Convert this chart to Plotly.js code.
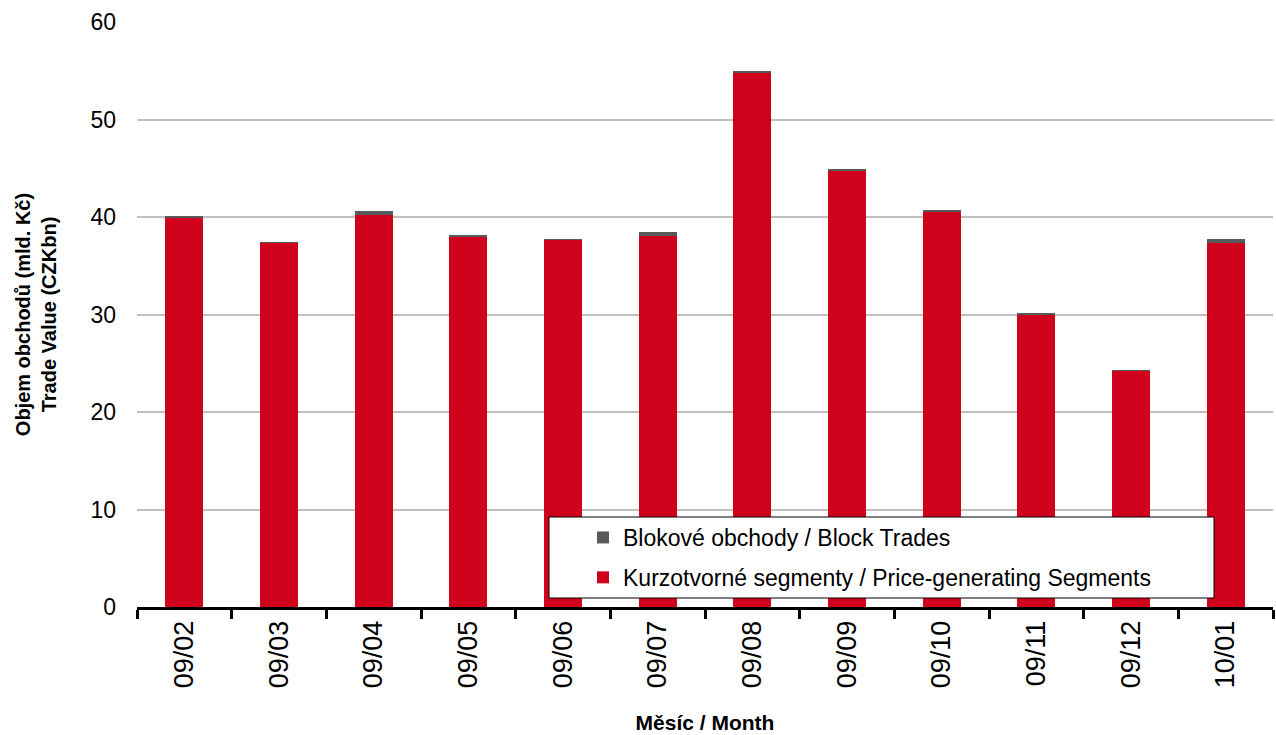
<!DOCTYPE html>
<html>
<head>
<meta charset="utf-8">
<script src="https://cdn.plot.ly/plotly-3.0.1.min.js"></script>
<style>html,body{margin:0;padding:0;background:#fff;}#chart{width:1276px;height:735px;}</style>
</head>
<body>
<div id="chart"></div>
<script>
const months = ["09/02","09/03","09/04","09/05","09/06","09/07","09/08","09/09","09/10","09/11","09/12","10/01"];
const priceGenerating = [39.9, 37.3, 40.2, 37.9, 37.65, 38.1, 54.8, 44.7, 40.5, 29.95, 24.2, 37.35];
const blockTrades = [0.2, 0.18, 0.4, 0.3, 0.1, 0.38, 0.2, 0.2, 0.2, 0.2, 0.1, 0.4];
const yTicks = [0, 10, 20, 30, 40, 50, 60];

const FONT = "Liberation Sans, Arial, sans-serif";

const traces = [
  {type:"bar", x:months, y:priceGenerating, name:"Kurzotvorné segmenty / Price-generating Segments",
   marker:{color:"#d0021b"}, legendgroup:"a", legendrank:2},
  {type:"bar", x:months, y:blockTrades, name:"Blokové obchody / Block Trades",
   marker:{color:"#595959"}, legendgroup:"b", legendrank:1}
];

const layout = {
  width:1276, height:735,
  margin:{l:137, r:3, t:22, b:128},
  paper_bgcolor:"#fff", plot_bgcolor:"#fff",
  barmode:"stack", bargap:0.6,
  font:{family:FONT, size:23, color:"#000"},
  xaxis:{
    type:"category", tickangle:-90, tickson:"boundaries",
    ticks:"outside", ticklen:9, tickwidth:3, tickcolor:"#000",
    showline:true, linecolor:"#000", linewidth:3,
    showgrid:false, tickfont:{size:27},
    title:{text:"<b>Měsíc / Month</b>", font:{size:21}, standoff:28}
  },
  yaxis:{
    range:[0,60], tickvals:yTicks, ticktext:yTicks.map(String),
    showgrid:true, gridcolor:"#c0c0c0", gridwidth:2, zeroline:false,
    showline:false, ticks:"", ticklabelstandoff:20, tickfont:{size:23},
    title:{text:"<b>Objem obchodů (mld. Kč)<br>Trade Value (CZKbn)</b>", font:{size:20}, standoff:28}
  },
  shapes:[{type:"rect", xref:"paper", yref:"paper",
    x0:(549-137)/1136, x1:(1214-137)/1136, y0:(607-598)/585, y1:(607-517)/585,
    line:{color:"#000", width:1}, fillcolor:"#fff", layer:"above"}],
  legend:{x:(583-137)/1136, y:(607-516)/585, xanchor:"left", yanchor:"top",
    bgcolor:"rgba(0,0,0,0)", borderwidth:0, traceorder:"grouped",
    tracegroupgap:7, font:{size:23}},
  showlegend:true
};

Plotly.newPlot("chart", traces, layout, {displayModeBar:false, staticPlot:true});
</script>
</body>
</html>
